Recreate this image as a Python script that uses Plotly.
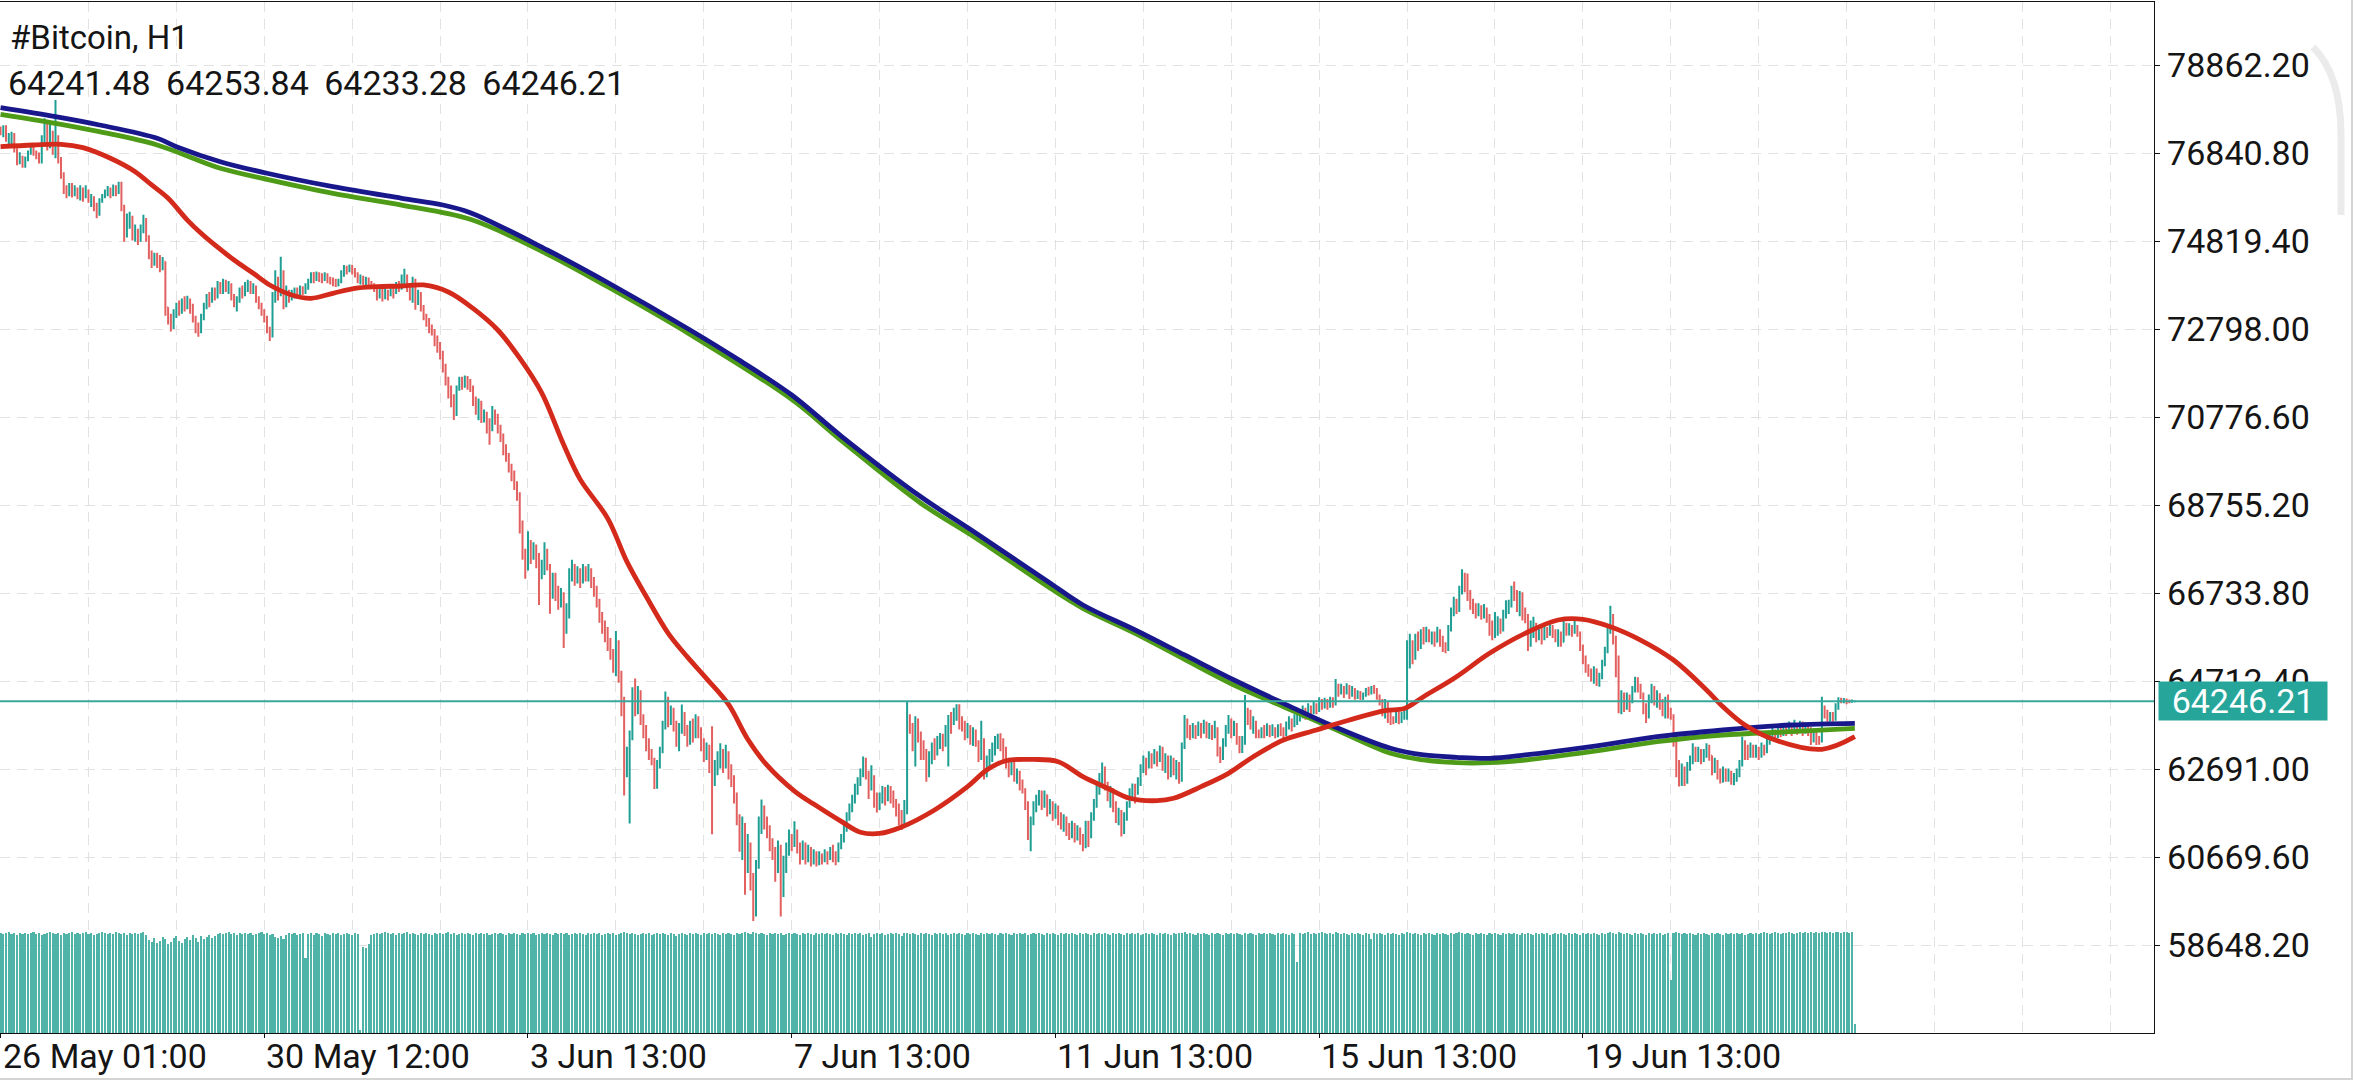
import plotly.graph_objects as go

# ---------------- data ----------------
symbol_title = "#Bitcoin, H1"
first_open = 77380

closes = [
77300,77350,77150,77200,77280,76900,76650,76750,76600,76700,
76850,76950,76850,76750,76650,77100,77500,77000,77300,76900,
77200,76700,76350,76000,75900,76050,75900,76000,75850,76000,
75900,75950,75750,75800,75600,75450,75750,75850,75950,76000,
75900,76050,75950,76100,75600,75000,75250,75350,74950,75050,
74850,75100,75300,74900,74500,74350,74500,74400,74250,74350,
73300,73050,72900,73150,73300,73200,73400,73350,73450,73300,
73050,72850,72750,73050,73300,73500,73450,73650,73550,73800,
73700,73900,73700,73800,73550,73400,73500,73700,73600,73800,
73850,73700,73750,73500,73350,73200,73050,72800,72650,73500,
73900,73600,74100,73400,73650,73500,73600,73650,73600,73700,
73650,73800,73900,74050,73950,74050,74000,73950,74050,73950,
73900,73850,73800,73900,74100,74200,74150,74250,74150,74050,
73950,74000,73900,73950,73850,73800,73700,73600,73700,73550,
73650,73600,73700,73650,73800,73750,73900,74000,73700,73500,
73900,73400,73600,73300,73100,73000,72850,72700,72500,72400,
72200,71900,71650,71400,71150,71050,71400,71600,71500,71650,
71550,71450,71200,70950,71100,70800,70850,70700,70500,70900,
70800,70550,70350,70050,69900,69650,69500,69250,69000,68300,
67700,67300,67850,67600,67800,67500,67200,67300,67700,67350,
66700,67000,66800,66550,66700,66000,66200,67100,67300,67050,
67200,67000,67250,67100,67250,67000,66800,66500,66200,65950,
65900,65600,65400,65100,65600,64900,64300,62600,63000,63400,
64300,64100,64450,63900,63600,63350,63100,62900,62450,62850,
63100,63700,64200,63800,64000,63700,63450,63650,63900,63600,
63350,63700,63500,63800,63550,63300,63000,63150,62800,62450,
62700,62900,63100,62800,63050,62700,62400,62100,61600,61000,
61400,60500,60900,60200,59600,60500,61400,61800,61500,61300,
61000,60800,60400,60900,59900,60500,60800,61100,61000,61250,
60900,60700,60900,60650,60800,60600,60750,60550,60700,60600,
60750,60650,60800,60700,60600,60900,61100,61300,61600,61800,
62000,62250,62400,62600,62850,62600,62300,62500,62100,61850,
62000,62200,62000,62250,62100,61950,61800,61600,61500,61700,
63900,63700,63300,63800,63500,63300,63100,62700,63000,63250,
63100,63350,63450,63300,63600,63900,63750,64000,64100,63800,
63700,63500,63650,63400,63550,63300,63000,63350,62700,62900,
63050,63200,63350,63450,63300,63100,62850,62700,62800,62550,
62600,62350,62200,61900,61300,61500,61800,62000,62150,61900,
62100,61800,61900,61700,61800,61600,61450,61550,61350,61200,
61400,61150,61300,61100,61000,61400,61200,61600,61900,62200,
62500,62700,62350,62100,62200,61850,61600,61700,61350,61600,
61850,62100,62300,62150,62400,62700,62900,62750,63000,62850,
63050,62950,63150,62800,62950,62600,62900,62700,62800,62500,
63200,63800,63600,63450,63650,63500,63700,63550,63750,63500,
63650,63450,63600,63100,62950,63300,63600,63800,63550,63700,
63400,63150,63300,64000,63900,63700,63750,63500,63450,63600,
63500,63650,63550,63600,63450,63650,63550,63500,63700,63800,
63700,63850,63900,63950,64050,63950,64100,64000,64150,64050,
64250,64150,64250,64150,64300,64200,64600,64450,64550,64450,
64600,64400,64500,64350,64450,64300,64400,64500,64450,64550,
64500,64350,64250,64000,64200,63900,63850,63800,63950,63850,
63900,63950,65300,65600,65300,65700,65500,65800,65650,65850,
65700,65800,65600,65850,65700,65500,65450,65900,66300,66500,
66350,66800,67100,66900,66700,66500,66400,66300,66400,66250,
66350,66150,65900,65800,66000,66100,65900,66250,66400,66500,
66800,66750,66450,66700,66300,66150,65700,65950,66000,65750,
65850,65700,65900,65800,65950,65850,65700,65800,65600,66000,
65800,65950,65850,65950,65800,65500,65250,65000,64900,64800,
64950,64700,64800,65100,65400,65900,66200,65700,65100,64200,
64400,64150,64350,64250,64500,64700,64550,64400,64100,63900,
64300,64500,64300,64400,64200,64000,64250,64000,63900,63400,
62700,62450,62700,62450,62750,62900,63150,62950,63100,62900,
63050,63200,63000,62700,62850,62600,62400,62650,62500,62600,
62400,62500,62600,62800,63300,63100,63000,63200,63050,63150,
63000,63200,63100,63300,63400,63550,63450,63600,63500,63650,
63550,63650,63550,63700,63600,63700,63600,63650,63550,63400,
63500,63400,63350,64100,63950,63800,63900,63850,64100,64300,
64280,64290,64260,64230,64241.48,64246.21]

highs = [
77450,77480,77480,77300,77330,77300,76950,76860,76780,76760,
76900,77000,77000,76900,76850,77250,77640,77560,77560,77350,
78060,77250,76750,76400,76100,76150,76150,76100,76050,76100,
76050,76100,76000,75900,75850,75700,75800,75900,76000,76080,
76050,76120,76100,76180,76180,75650,75450,75490,75400,75200,
75100,75200,75420,75350,74950,74600,74550,74550,74500,74450,
74350,73300,73150,73250,73400,73450,73500,73550,73560,73500,
73380,73100,72950,73150,73400,73600,73650,73750,73750,73900,
73880,73950,73930,73900,73850,73600,73550,73750,73800,73880,
73930,73900,73850,73800,73550,73400,73250,73100,72850,73650,
74150,74000,74460,74150,73800,73700,73700,73750,73750,73800,
73780,73850,73950,74100,74110,74120,74100,74080,74100,74080,
74000,73980,73950,73950,74150,74270,74250,74280,74270,74200,
74100,74050,74020,74000,73980,73900,73850,73750,73800,73750,
73750,73700,73800,73780,73880,73900,74050,74180,74050,73800,
74000,73950,73700,73650,73350,73150,73050,72900,72800,72650,
72500,72300,72000,71700,71500,71300,71500,71700,71700,71730,
71720,71650,71500,71250,71200,71150,70950,70900,70750,71030,
70950,70850,70600,70400,70150,69950,69700,69550,69300,69050,
68400,67750,68150,67950,67900,67850,67650,67500,67900,67750,
67400,67200,67200,66900,66850,66750,66500,67300,67500,67400,
67350,67300,67400,67350,67400,67300,67100,66900,66600,66300,
66100,65950,65700,65450,65860,65650,64950,64350,63200,63575,
64570,64770,64600,64500,63950,63700,63400,63150,62950,62900,
63200,63800,64470,64350,64150,64100,63800,63750,64170,64000,
63700,63800,63850,63950,63900,63650,63400,63300,63250,63675,
62900,63100,63280,63150,63250,63100,62800,62550,62150,61650,
61600,61450,61200,61000,60300,60600,61600,61990,61850,61600,
61400,61100,60900,61050,60950,60700,61000,61300,61200,61490,
61300,61000,61050,61000,60950,60900,60850,60800,60800,60750,
60850,60800,60900,60950,60800,61000,61200,61450,61700,61900,
62100,62350,62500,62700,62980,62950,62650,62780,62550,62150,
62150,62300,62280,62330,62300,62200,62000,61900,61750,61980,
64240,63950,63750,63900,63850,63550,63350,63150,63100,63300,
63400,63450,63520,63500,63700,63930,64000,64100,64180,64176,
63900,63800,63750,63700,63650,63600,63350,63800,63400,63000,
63150,63300,63450,63500,63510,63400,63200,62950,62900,62850,
62700,62650,62450,62250,61950,61600,61950,62100,62210,62200,
62200,62100,62000,61950,61900,61850,61700,61650,61600,61450,
61500,61450,61400,61350,61200,61500,61500,61700,62000,62350,
62600,62840,62750,62400,62300,62250,61950,61800,61750,61700,
61950,62250,62360,62350,62500,62800,63000,62950,63100,63050,
63150,63100,63230,63200,63050,63000,63000,62950,62900,62850,
63300,63930,63850,63700,63750,63700,63780,63750,63820,63780,
63750,63700,63800,63650,63200,63400,63700,63930,63850,63800,
63750,63450,63450,64390,64100,64050,63900,63800,63600,63650,
63700,63740,63700,63720,63650,63720,63740,63650,63780,63900,
63850,63950,63970,64050,64150,64100,64200,64150,64250,64200,
64340,64300,64330,64300,64350,64340,64760,64650,64650,64600,
64660,64620,64600,64550,64500,64480,64450,64550,64580,64600,
64620,64550,64400,64300,64300,64250,64000,63900,64050,64000,
64000,64050,65650,65800,65650,65800,65850,65900,65950,65960,
65900,65850,65850,65960,65900,65750,65600,66000,66400,66650,
66600,66900,67280,67200,67180,66800,66600,66500,66500,66450,
66480,66400,66250,66100,66300,66200,66150,66350,66570,66580,
66900,67000,66800,66780,66750,66400,66250,66100,66190,66050,
65950,65950,66000,65950,66050,66000,65900,65900,65850,66100,
66050,66040,66000,66100,66000,65850,65550,65300,65100,65000,
65050,65000,64900,65200,65500,66000,66440,66250,65750,65300,
64500,64450,64450,64400,64600,64810,64800,64650,64450,64200,
64400,64650,64600,64500,64430,64300,64350,64400,64100,63950,
63500,62900,62820,62750,62850,63000,63280,63200,63200,63150,
63150,63280,63250,63000,62950,62900,62700,62750,62700,62700,
62650,62600,62700,62900,63430,63350,63250,63300,63250,63250,
63200,63300,63250,63400,63500,63650,63600,63700,63650,63740,
63700,63780,63700,63820,63750,63800,63780,63760,63720,63650,
63600,63550,63450,64350,64150,64050,64000,64000,64200,64340,
64330,64320,64310,64290,64290,64253.84]

lows = [
77250,77200,77100,77050,77030,76850,76560,76580,76500,76500,
76650,76800,76780,76700,76600,76600,77050,76900,76950,76800,
76720,76600,76250,75900,75800,75850,75820,75850,75780,75750,
75720,75800,75700,75600,75500,75340,75400,75700,75800,75850,
75800,75850,75850,75900,75500,74800,74900,75100,74830,74800,
74730,74800,75000,74800,74400,74200,74250,74200,74100,74150,
73100,72900,72740,72800,73050,73100,73150,73200,73250,73150,
72950,72700,72620,72700,73000,73250,73300,73400,73450,73500,
73600,73600,73650,73600,73450,73300,73200,73400,73500,73550,
73650,73600,73600,73400,73250,73100,72950,72700,72520,72600,
73400,73450,73550,73250,73300,73400,73450,73500,73550,73580,
73580,73600,73700,73850,73850,73900,73880,73850,73900,73850,
73820,73780,73760,73780,73850,74000,74050,74100,74050,73980,
73850,73820,73810,73800,73750,73720,73650,73450,73500,73430,
73480,73450,73550,73500,73600,73650,73700,73800,73650,73450,
73400,73240,73350,73200,73000,72850,72700,72650,72400,72250,
72100,71800,71500,71200,71000,70710,70800,71380,71400,71450,
71400,71350,71030,70830,70700,70640,70650,70400,70140,70450,
70600,70400,70200,69900,69750,69500,69300,69100,68850,68100,
67500,67060,67250,67400,67500,67300,66460,67050,67150,67250,
66260,66600,66550,66350,66400,65470,65800,66150,67000,66900,
66950,66850,66950,67000,67000,66850,66650,66400,66050,65800,
65600,65400,65200,64900,64820,64670,63900,62080,62500,61440,
63350,63900,63950,63700,63400,63100,62900,62780,62230,62240,
62700,63050,63600,63650,63700,63550,63200,63100,63500,63450,
63200,63250,63300,63400,63400,63100,62850,62900,62600,61190,
62300,62550,62700,62600,62700,62450,62280,61900,61400,60790,
60600,59800,60300,59900,59200,59300,60400,61200,61300,61100,
60800,60600,60100,60300,59300,59750,60300,60700,60800,60900,
60750,60500,60600,60500,60550,60450,60500,60450,60480,60500,
60550,60500,60600,60550,60480,60550,60850,61000,61250,61500,
61700,61900,62100,62300,62500,62450,62000,62200,61800,61690,
61750,61900,61850,61950,61900,61800,61600,61400,61290,61400,
61650,63500,63100,62750,63300,62900,62900,62400,62500,62800,
62900,63000,63150,63100,63200,62750,63500,63700,63800,63600,
63550,63350,63400,63250,63220,63200,62850,62900,62450,62500,
62700,62850,63000,63150,63100,62900,62700,62500,62550,62400,
62350,62200,62130,61750,61060,60800,61400,61700,61850,61750,
61800,61600,61650,61500,61550,61400,61300,61250,61150,61060,
61100,61000,61050,60950,60800,60870,60900,61100,61500,61800,
62100,62300,62200,61950,61800,61700,61450,61400,61140,61200,
61500,61800,62000,61900,62100,62300,62600,62550,62700,62700,
62800,62750,62850,62650,62600,62450,62500,62550,62450,62350,
62400,63150,63400,63360,63400,63380,63450,63400,63500,63400,
63380,63360,63400,62980,62830,62900,63200,63500,63400,63450,
63250,63050,63060,63250,63700,63600,63500,63400,63395,63400,
63400,63450,63420,63450,63400,63420,63450,63400,63450,63600,
63550,63650,63700,63780,63850,63820,63900,63850,63950,63950,
64000,64050,64080,64050,64100,64100,64150,64350,64400,64320,
64400,64300,64350,64280,64300,64280,64280,64350,64380,64400,
64420,64280,64150,63900,63850,63750,63700,63720,63750,63720,
63750,63820,63820,65000,65100,65200,65400,65450,65550,65600,
65600,65550,65500,65600,65500,65380,65350,65400,65850,66200,
66250,66300,66700,66750,66550,66350,66250,66150,66200,66120,
66150,66050,65750,65650,65700,65750,65800,65850,66150,66250,
66400,66550,66300,66200,66100,66040,65400,65500,65700,65600,
65650,65550,65650,65700,65750,65700,65600,65500,65500,65600,
65750,65760,65730,65800,65730,65400,65100,64900,64810,64700,
64650,64600,64580,64750,65050,65350,65800,65550,64800,63970,
63950,64000,64050,64000,64200,64450,64450,64300,63950,63750,
63850,64200,64150,64100,64050,63900,63850,63850,63820,63200,
62500,62290,62300,62300,62350,62650,62800,62850,62850,62800,
62850,62950,62880,62550,62600,62450,62360,62380,62400,62400,
62330,62320,62400,62500,62750,62900,62900,62950,62950,62950,
62900,62950,63000,63050,63250,63350,63380,63400,63420,63450,
63450,63500,63450,63500,63480,63550,63450,63500,63450,63240,
63300,63240,63250,63300,63850,63780,63780,63780,63800,64050,
64200,64200,64180,64200,64220,64233.28]

volumes = [
99,98,99,100,98,99,97,99,98,99, 98,99,100,98,99,97,98,99,100,99,
98,99,97,99,98,99,100,98,99,98, 99,100,98,99,97,98,99,100,99,98,
99,98,100,99,98,99,97,99,98,99, 98,99,100,97,92,90,94,89,91,95,
93,88,90,94,96,91,89,93,95,92, 97,94,90,96,93,95,97,94,96,98,
99,98,99,100,98,99,97,99,98,99, 98,99,97,98,99,100,98,99,97,98,
95,94,96,93,97,99,98,99,97,98, 99,74,98,99,97,99,98,96,99,98,
97,99,98,99,97,98,99,98,97,99, 98,3,85,84,88,97,98,99,98,99,
100,99,98,99,97,99,98,99,100,98, 99,98,97,99,98,99,98,97,99,98,
99,98,99,100,98,99,97,98,99,98, 99,98,97,99,98,99,98,99,97,98,
99,98,99,98,97,99,98,99,98,97, 99,98,99,98,99,97,98,99,98,99,
98,97,99,98,99,98,99,97,98,99, 98,99,98,97,99,98,99,98,99,97,
98,99,98,99,97,98,99,100,99,98, 99,98,97,98,99,98,99,97,98,99,
98,99,98,97,99,98,96,98,99,98, 97,99,98,99,98,97,99,98,99,98,
99,98,97,99,98,99,98,97,99,98, 99,100,99,98,100,99,98,99,98,97,
99,98,99,98,99,97,98,99,98,99, 98,97,99,98,99,98,97,99,98,99,
98,99,98,97,99,98,99,98,97,99, 98,99,98,99,97,98,99,95,98,99,
98,99,97,98,99,98,99,98,96,99, 99,98,99,98,97,99,98,99,98,97,
99,98,99,98,99,97,98,99,98,99, 98,97,99,98,99,98,97,99,98,99,
98,99,98,97,99,98,99,98,97,99, 98,99,98,99,97,98,99,98,99,98,
97,99,98,99,98,97,99,98,99,98, 99,98,97,99,98,99,98,97,99,98,
99,98,99,98,97,99,98,99,98,97, 99,98,99,98,99,97,98,99,98,99,
98,97,99,98,99,98,97,99,98,99, 99,100,98,99,98,97,99,98,99,98,
97,99,98,99,98,97,99,98,99,98, 99,98,97,99,98,99,98,97,99,98,
99,98,99,98,97,99,98,99,98,97, 99,98,70,99,98,99,100,98,99,98,
99,100,99,98,99,98,100,99,98,99, 98,97,99,98,99,98,97,99,98,93,
99,98,99,98,97,99,98,99,98,97, 99,98,100,99,98,99,98,97,99,98,
99,98,97,99,98,99,98,97,99,98, 99,100,99,98,99,98,97,99,98,99,
98,97,99,98,99,98,97,99,98,99, 98,99,98,97,99,98,99,98,97,99,
98,99,98,99,97,98,99,98,99,98, 97,99,98,99,98,97,99,98,99,98,
99,98,97,99,98,99,100,99,98,100, 99,98,99,98,97,99,98,99,98,97,
99,98,99,98,99,97,98,99,52,99, 100,99,98,99,98,99,98,97,99,98,
99,98,97,99,98,99,98,97,99,98, 99,98,99,98,99,97,98,99,98,99,
98,99,100,99,98,99,100,99,98,99, 99,100,99,98,99,100,99,100,99,100,
99,100,99,100,100,99,100,99,100,100, 99,100,100,99,100,9]

# moving averages (bar index, price)
ma_fast_idx = [0,12,22,30,40,49,55,61,68,73,78,85,92,98,106,113,121,129,137,146,
               154,163,172,181,189,197,205,211,221,228,235,243,250,257,265,272,279,289,296,306,
               313,320,328,340,352,359,366,376,385,394,403,411,421,427,437,447,456,467,479,491,
               504,511,518,530,542,555,567,576,586,597,609,621,627,635,646,663,675]
ma_fast_val = [76986,77025,77041,76963,76719,76411,76106,75800,75300,74996,74728,74383,74078,73809,73579,73503,73618,73733,73770,73786,
               73809,73648,73271,72775,72127,71330,70138,69343,68448,67453,66658,65813,65266,64768,64173,63376,62778,62184,61885,61488,
               61239,61210,61359,61750,62285,62668,62880,62910,62859,62514,62248,62018,61963,62018,62285,62592,62974,63357,63587,63817,
               64031,64080,64352,64812,65349,65808,66114,66130,65960,65654,65195,64506,64122,63702,63357,63144,63433]

ma_slow1_idx = [0,20,36,57,64,80,97,121,146,161,171,199,221,251,269,288,306,335,355,382,
                394,413,431,449,467,485,506,518,530,542,555,579,603,627,652,675]
ma_slow1_val = [77881,77675,77484,77178,76986,76641,76375,76067,75800,75646,75470,74613,73866,72775,72077,71282,70340,68944,68112,66964,
                66458,65884,65310,64736,64200,63679,63167,63013,62960,62937,63013,63204,63433,63587,63702,63741]

ma_slow2_idx = [0,20,36,57,80,97,121,146,171,199,221,251,288,306,335,355,382,394,413,431,
                449,467,485,506,518,530,542,555,579,603,627,652,675]
ma_slow2_val = [77730,77523,77330,77025,76489,76237,75915,75646,75318,74521,73768,72674,71181,70240,68797,67997,66849,66383,65808,65211,
                64621,64122,63626,63052,62898,62836,62836,62898,63089,63318,63472,63548,63626]

x_tick_idx = [0, 96, 192, 288, 384, 480, 576]
x_tick_text = ["26 May 01:00", "30 May 12:00", "3 Jun 13:00", "7 Jun 13:00",
               "11 Jun 13:00", "15 Jun 13:00", "19 Jun 13:00"]
y_tick_text = ["58648.20", "60669.60", "62691.00", "64712.40", "66733.80", "68755.20",
               "70776.60", "72798.00", "74819.40", "76840.80", "78862.20"]

# ---------------- build ----------------
n = len(closes)
idx = list(range(n))
opens = [first_open] + closes[:-1]
highs = [max(h, o, c) for h, o, c in zip(highs, opens, closes)]
lows = [min(l, o, c) for l, o, c in zip(lows, opens, closes)]
y_tick_vals = [float(t) for t in y_tick_text]
last_close = closes[-1]

FONT = "Roboto, 'Noto Sans', sans-serif"
UP = "#1f9f93"
DOWN = "#e2605f"
GRID = "#e2e2e2"
SEP = " \u2009"

fig = go.Figure()

fig.add_trace(go.Bar(x=idx, y=volumes, yaxis="y2", marker=dict(color="#4fb3a7", line=dict(width=0)),
                     width=0.76, hoverinfo="skip"))

fig.add_trace(go.Ohlc(x=idx, open=opens, high=highs, low=lows, close=closes,
                      increasing=dict(line=dict(color=UP, width=2)),
                      decreasing=dict(line=dict(color=DOWN, width=2)),
                      tickwidth=0.3, hoverinfo="skip"))

fig.add_trace(go.Scatter(x=ma_slow2_idx, y=ma_slow2_val, mode="lines",
                         line=dict(color="#4e9b18", width=4.8, shape="spline", smoothing=1.0), hoverinfo="skip"))
fig.add_trace(go.Scatter(x=ma_slow1_idx, y=ma_slow1_val, mode="lines",
                         line=dict(color="#18188c", width=4.8, shape="spline", smoothing=1.0), hoverinfo="skip"))
fig.add_trace(go.Scatter(x=ma_fast_idx, y=ma_fast_val, mode="lines",
                         line=dict(color="#d42a1c", width=4.8, shape="spline", smoothing=1.0), hoverinfo="skip"))

shapes = [
    dict(type="line", xref="paper", yref="y", x0=0, x1=1, y0=last_close, y1=last_close,
         line=dict(color="#3aa79c", width=2), layer="above"),
    # scroll indicator arc and frame
    dict(type="path", xref="paper", yref="paper",
         path="M 1.07382,0.95635 Q 1.08682,0.92919 1.08682,0.87100 L 1.08682,0.79340",
         line=dict(color="#ebebeb", width=7)),
    dict(type="line", xref="paper", yref="paper", x0=1.09192, x1=1.09192, y0=1.003, y1=-0.0456,
         line=dict(color="#d4d4d4", width=2)),
    dict(type="line", xref="paper", yref="paper", x0=0, x1=1.09192, y0=-0.0446, y1=-0.0446,
         line=dict(color="#d4d4d4", width=2)),
]

ohlc_text = SEP.join(f"{v:.2f}" for v in (opens[-1], highs[-1], lows[-1], closes[-1]))

annotations = [
    dict(text=symbol_title, xref="paper", yref="paper", x=0, xshift=8, y=0.9651,
         xanchor="left", yanchor="middle", showarrow=False,
         font=dict(family=FONT, size=33, color="#151515")),
    dict(text=ohlc_text,
         xref="paper", yref="paper", x=0, xshift=6, y=0.9219,
         xanchor="left", yanchor="middle", showarrow=False,
         font=dict(family=FONT, size=34, color="#151515")),
    dict(text=f"{last_close:.2f}", xref="paper", yref="y", x=1, xshift=4, y=last_close,
         xanchor="left", yanchor="middle", showarrow=False, width=168, height=38,
         bgcolor="#26a69a", borderpad=0, align="center",
         font=dict(family=FONT, size=34, color="#ffffff")),
]
for tv, tt in zip(x_tick_idx, x_tick_text):
    annotations.append(dict(text=tt, xref="x", yref="paper", x=tv, y=0, yshift=-22.5,
                            xanchor="left", yanchor="middle", showarrow=False,
                            font=dict(family=FONT, size=34, color="#151515")))

fig.update_layout(
    width=2353, height=1080,
    margin=dict(l=0, r=199, t=2, b=47, pad=0),
    paper_bgcolor="white", plot_bgcolor="white",
    showlegend=False, hovermode=False, bargap=0,
    shapes=shapes, annotations=annotations,
    xaxis=dict(range=[-0.2, 783.9], tickvals=x_tick_idx, showticklabels=False,
               ticks="outside", ticklen=4, tickcolor="#111", tickwidth=1,
               showgrid=True, gridcolor=GRID, griddash="10px,7px", gridwidth=1,
               minor=dict(tick0=0, dtick=32, showgrid=True, gridcolor=GRID,
                          griddash="10px,7px", gridwidth=1, ticks=""),
               showline=True, linecolor="#111", linewidth=1.3, mirror=True,
               zeroline=False, rangeslider=dict(visible=False), fixedrange=True),
    yaxis=dict(side="right", range=[56626.8, 80309.4], tickvals=y_tick_vals, ticktext=y_tick_text,
               ticks="outside", ticklen=5, tickcolor="#111", tickwidth=1,
               tickfont=dict(family=FONT, size=34, color="#151515"),
               showgrid=True, gridcolor=GRID, griddash="10px,7px", gridwidth=1,
               showline=True, linecolor="#111", linewidth=1.3, mirror=True,
               zeroline=False, automargin=False, fixedrange=True),
    yaxis2=dict(overlaying="y", range=[0, 1020], visible=False, fixedrange=True),
)

fig.write_html("out.html", config={"displayModeBar": False, "staticPlot": True})
